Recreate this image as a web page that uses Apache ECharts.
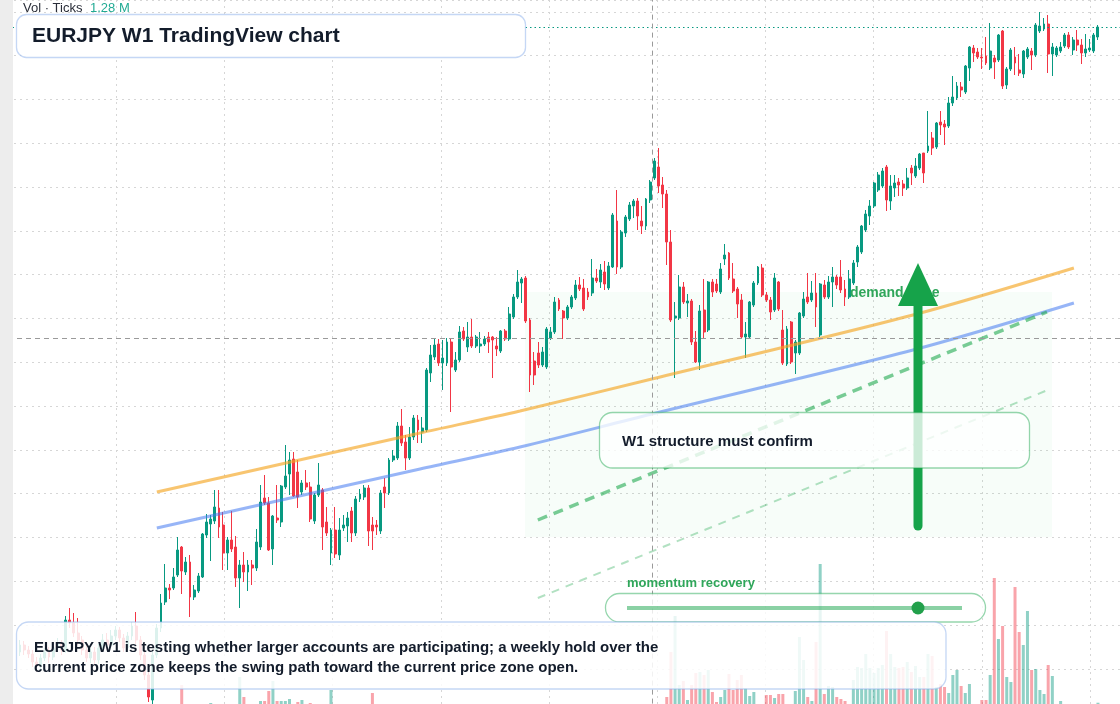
<!DOCTYPE html>
<html>
<head>
<meta charset="utf-8">
<title>EURJPY W1</title>
<script src="https://cdn.jsdelivr.net/npm/echarts@6/dist/echarts.min.js"></script>
<style>
  html, body { margin: 0; padding: 0; background: #fff; }
  #chart { width: 1120px; height: 704px; }
</style>
</head>
<body>
<div id="chart"></div>
<script>
// weekly candles, x = week index
const opens = [
  106.8, 107.5, 107.0, 106.6, 105.8, 105.4, 106.2, 106.8, 106.3, 107.2,
  107.6, 107.0, 110.0, 109.7, 108.7, 108.0, 107.0, 106.2, 106.8, 106.0,
  107.2, 108.0, 107.5, 108.4, 109.0, 108.2, 107.2, 108.4, 109.4, 108.0,
  106.5, 104.5, 102.0, 106.5, 109.2, 111.8, 113.2, 113.2, 114.5, 117.3,
  114.8, 115.8, 112.3, 112.9, 114.3, 118.5, 119.6, 119.9, 121.2, 119.5,
  116.7, 118.0, 117.3, 114.2, 115.5, 114.8, 115.5, 115.2, 117.3, 122.2,
  121.7, 117.1, 120.2, 119.8, 123.3, 124.6, 126.1, 124.8, 122.8, 123.7,
  123.3, 119.9, 122.5, 123.0, 119.8, 116.7, 119.0, 116.5, 119.2, 119.4,
  120.9, 118.7, 122.1, 122.3, 123.2, 119.5, 119.5, 118.9, 123.3, 122.7,
  126.0, 126.2, 129.4, 127.8, 126.2, 128.3, 130.0, 128.8, 129.0, 134.7,
  136.3, 137.6, 135.7, 135.7, 137.8, 135.0, 136.0, 138.9, 137.3, 138.3,
  137.4, 137.4, 137.6, 138.3, 138.3, 137.4, 136.9, 138.9, 138.1, 140.3,
  142.3, 143.7, 144.2, 140.0, 135.9, 136.7, 135.5, 135.3, 138.2, 138.8,
  142.0, 140.9, 140.2, 141.3, 142.2, 143.5, 143.2, 142.8, 142.7, 144.2,
  143.8, 144.8, 143.2, 145.3, 149.9, 145.3, 148.7, 150.1, 151.4, 151.9,
  149.9, 149.4, 152.0, 154.2, 155.3, 153.5, 152.6, 147.8, 140.2, 140.2,
  143.3, 141.7, 141.9, 137.8, 135.8, 141.0, 139.0, 143.8, 143.6, 142.8,
  146.1, 146.7, 144.1, 143.1, 142.0, 138.3, 138.3, 141.5, 143.7, 145.2,
  142.5, 142.0, 141.0, 143.8, 139.0, 135.6, 139.8, 136.7, 136.7, 140.4,
  142.3, 142.0, 142.7, 138.5, 143.5, 142.3, 143.8, 144.3, 144.3, 143.1,
  142.3, 143.7, 145.8, 146.8, 149.0, 150.4, 151.4, 153.0, 153.4, 155.3,
  151.9, 153.2, 153.8, 153.6, 153.2, 155.2, 154.4, 155.2, 156.7, 156.9,
  158.2, 157.3, 159.8, 159.6, 159.4, 161.7, 162.2, 163.3, 162.8, 165.2,
  167.2, 166.8, 166.3, 166.4, 165.2, 166.2, 166.0, 168.9, 163.5, 165.1,
  166.3, 165.0, 164.6, 166.3, 166.9, 166.5, 168.9, 169.1, 169.6, 166.6,
  166.5, 166.9, 167.4, 168.5, 167.0, 168.0, 167.5, 166.7, 167.0, 166.9,
  168.3
];
const closes = [
  107.5, 107.0, 106.6, 105.8, 105.4, 106.2, 106.8, 106.3, 107.2, 107.6,
  107.0, 110.0, 109.7, 108.7, 108.0, 107.0, 106.2, 106.8, 106.0, 107.2,
  108.0, 107.5, 108.4, 109.0, 108.2, 107.2, 108.4, 109.4, 108.0, 106.5,
  104.5, 102.3, 106.5, 109.2, 111.7, 113.2, 113.0, 114.3, 117.0, 114.9,
  115.8, 112.3, 113.0, 114.4, 118.6, 119.8, 120.1, 121.3, 119.3, 116.7,
  118.0, 117.1, 114.2, 115.5, 114.8, 115.5, 115.2, 117.8, 121.8, 121.7,
  117.0, 120.4, 120.0, 123.4, 124.4, 126.0, 122.4, 122.3, 123.7, 123.3,
  120.1, 122.5, 123.5, 119.3, 118.7, 119.0, 116.6, 119.0, 119.5, 120.2,
  118.7, 122.1, 122.6, 123.2, 118.9, 118.9, 119.3, 122.7, 122.7, 126.0,
  126.4, 129.4, 127.7, 126.2, 128.3, 130.2, 129.0, 129.2, 135.0, 136.5,
  137.5, 135.7, 136.2, 137.8, 135.3, 136.0, 138.8, 138.1, 138.3, 137.4,
  138.3, 137.6, 138.1, 137.8, 138.0, 137.1, 138.9, 138.1, 140.6, 142.3,
  143.8, 144.1, 139.9, 134.5, 134.5, 135.5, 136.8, 139.1, 138.8, 141.8,
  141.1, 140.2, 141.3, 142.3, 143.5, 143.1, 141.1, 142.3, 144.2, 143.9,
  145.0, 143.6, 145.4, 150.5, 145.3, 148.8, 150.3, 151.5, 151.9, 150.4,
  149.4, 152.1, 153.8, 155.9, 153.4, 152.6, 147.8, 140.0, 140.4, 143.3,
  141.8, 141.9, 137.8, 135.8, 140.9, 138.8, 143.8, 142.8, 142.9, 145.1,
  146.5, 144.2, 142.9, 141.6, 138.3, 138.6, 141.8, 143.7, 145.3, 142.5,
  142.0, 140.8, 144.2, 141.1, 135.7, 139.1, 135.8, 137.8, 140.7, 142.1,
  141.8, 142.7, 141.3, 143.6, 142.3, 143.8, 144.3, 143.5, 143.0, 142.3,
  144.1, 145.7, 147.3, 149.4, 150.6, 151.4, 153.7, 154.5, 154.9, 152.0,
  153.4, 153.7, 153.5, 153.2, 154.2, 154.7, 155.4, 156.6, 154.7, 157.4,
  157.2, 159.7, 159.5, 159.3, 161.7, 162.3, 163.4, 163.0, 165.4, 167.3,
  166.7, 166.3, 166.2, 165.7, 166.9, 165.8, 168.5, 163.4, 165.1, 167.0,
  165.7, 164.7, 166.9, 167.1, 166.5, 169.5, 169.4, 169.6, 166.6, 167.3,
  167.2, 167.3, 168.5, 167.3, 168.0, 167.5, 166.7, 167.1, 167.2, 168.5,
  169.3
];
const highs = [
  108.0, 107.9, 107.4, 107.0, 106.3, 106.6, 107.2, 107.3, 107.7, 108.2,
  108.0, 110.4, 111.2, 110.7, 110.2, 108.4, 107.5, 107.2, 107.3, 107.6,
  108.6, 108.7, 109.0, 109.4, 109.3, 108.6, 108.8, 109.8, 110.8, 108.4,
  107.0, 104.8, 107.0, 109.6, 112.6, 115.6, 113.6, 115.2, 118.3, 117.4,
  116.3, 116.5, 113.5, 114.7, 118.7, 120.6, 120.5, 123.0, 123.0, 120.8,
  118.3, 120.9, 118.4, 116.0, 116.8, 116.0, 116.0, 119.1, 123.5, 124.5,
  122.3, 120.5, 123.5, 123.5, 127.5, 126.8, 126.8, 126.0, 124.0, 125.0,
  123.8, 122.7, 125.7, 123.2, 121.3, 119.2, 121.3, 120.2, 120.5, 120.8,
  121.3, 122.4, 123.1, 123.5, 123.5, 120.3, 120.0, 123.0, 124.2, 126.2,
  127.0, 129.8, 131.1, 128.5, 129.3, 130.5, 130.5, 130.3, 135.2, 137.5,
  138.2, 138.1, 138.0, 138.2, 138.2, 136.8, 139.4, 139.3, 139.8, 140.1,
  138.5, 138.8, 138.4, 138.8, 138.4, 138.3, 139.0, 139.1, 141.3, 142.6,
  145.0, 144.3, 144.4, 140.2, 136.8, 137.8, 137.3, 139.3, 139.3, 142.3,
  142.2, 141.0, 141.5, 142.5, 144.0, 144.3, 144.1, 143.2, 146.1, 145.1,
  145.6, 145.9, 145.8, 150.7, 153.0, 149.0, 150.5, 151.8, 152.1, 152.2,
  151.4, 152.2, 154.0, 156.2, 157.2, 154.3, 153.0, 149.0, 141.8, 144.5,
  143.8, 142.6, 142.1, 138.9, 141.5, 144.1, 143.9, 144.1, 144.1, 145.7,
  147.6, 146.8, 145.7, 143.3, 142.6, 139.8, 141.9, 143.9, 145.4, 145.6,
  142.8, 142.3, 144.7, 143.9, 141.0, 139.4, 139.9, 138.0, 140.8, 142.8,
  144.7, 143.9, 144.7, 143.7, 144.0, 144.4, 145.3, 144.5, 146.0, 144.0,
  145.0, 146.0, 147.5, 149.5, 151.0, 152.0, 153.8, 154.8, 155.2, 155.5,
  154.5, 154.5, 154.2, 154.0, 155.2, 155.5, 156.2, 156.7, 156.7, 160.9,
  158.8, 159.8, 160.9, 160.0, 162.3, 164.4, 163.8, 163.8, 165.5, 167.4,
  167.5, 167.2, 167.2, 168.3, 169.7, 166.5, 168.6, 169.0, 165.3, 167.2,
  167.3, 166.6, 167.0, 167.3, 167.2, 169.7, 170.8, 170.2, 170.5, 167.7,
  167.4, 167.8, 168.7, 168.8, 168.3, 169.0, 168.1, 168.6, 168.1, 168.7,
  169.5
];
const lows = [
  106.4, 106.5, 106.2, 105.3, 104.8, 105.0, 105.9, 105.7, 106.0, 106.8,
  106.5, 106.7, 109.2, 108.3, 107.5, 106.5, 105.8, 105.7, 105.5, 105.6,
  106.8, 107.0, 107.2, 108.0, 107.8, 106.8, 106.8, 108.0, 107.6, 106.0,
  104.0, 101.8, 101.0, 106.2, 108.8, 111.5, 112.1, 113.0, 114.3, 112.6,
  114.5, 110.3, 112.0, 112.7, 114.2, 118.2, 115.9, 119.6, 118.2, 115.0,
  115.0, 116.8, 113.3, 111.2, 113.8, 112.9, 113.5, 114.9, 117.0, 121.5,
  116.9, 115.5, 119.7, 119.3, 123.1, 122.5, 122.3, 121.2, 122.5, 123.0,
  119.8, 119.6, 122.3, 117.0, 118.4, 115.5, 116.2, 116.0, 118.9, 117.8,
  117.8, 118.4, 121.8, 122.0, 117.4, 117.0, 118.5, 118.6, 121.2, 122.5,
  125.8, 126.0, 127.4, 125.0, 126.0, 128.0, 127.7, 127.7, 128.8, 133.8,
  136.0, 135.4, 133.0, 135.4, 130.8, 134.8, 135.8, 137.9, 136.8, 137.2,
  137.2, 136.7, 137.4, 136.7, 134.2, 136.4, 136.7, 137.9, 137.9, 140.1,
  142.1, 141.7, 139.7, 132.8, 133.5, 135.2, 135.3, 135.1, 138.0, 138.6,
  140.9, 138.1, 140.0, 141.1, 142.0, 142.9, 140.9, 142.0, 142.4, 143.7,
  143.2, 143.0, 143.0, 145.2, 144.6, 145.1, 148.3, 149.9, 150.2, 149.0,
  148.6, 149.0, 151.7, 154.0, 152.7, 151.2, 145.5, 139.8, 134.2, 140.0,
  141.6, 140.3, 137.5, 135.7, 135.0, 138.2, 138.8, 142.3, 142.7, 142.6,
  145.5, 144.0, 142.7, 140.2, 138.1, 136.2, 138.1, 141.3, 143.5, 142.3,
  141.8, 140.0, 140.8, 140.9, 135.5, 135.4, 135.6, 134.6, 136.5, 140.2,
  141.6, 141.8, 139.3, 138.3, 142.1, 142.1, 141.3, 143.1, 142.7, 141.4,
  142.1, 143.5, 145.3, 146.6, 148.8, 149.5, 151.2, 152.8, 153.2, 150.9,
  151.0, 152.3, 152.4, 152.4, 153.0, 153.5, 154.2, 155.0, 153.7, 156.7,
  156.5, 157.1, 158.5, 157.5, 159.2, 161.4, 162.0, 162.3, 162.6, 163.9,
  165.8, 166.1, 165.1, 165.5, 165.0, 164.1, 165.8, 163.1, 163.1, 164.9,
  164.5, 164.4, 164.2, 166.1, 165.0, 166.3, 168.7, 168.9, 164.7, 164.4,
  166.3, 166.7, 167.2, 167.1, 166.5, 166.9, 165.6, 166.3, 166.8, 166.7,
  168.0
];
// tick volume, millions
const volumes = [
  0, 0, 0, 0, 0, 0, 0, 0, 0, 0,
  0, 0, 0, 0, 0, 0, 0, 0, 0, 0,
  0, 0, 0, 0, 0, 0, 0, 0, 0, 0,
  0, 0, 0, 0, 0, 0, 0, 0, 0, 19,
  0, 0, 0, 0, 0, 0, 1, 0, 0, 0,
  0, 0, 0, 27, 7, 0, 0, 0, 3, 3,
  13, 23, 3, 3, 3, 5, 0, 2, 4, 0,
  1, 0, 0, 0, 0, 14, 0, 0, 0, 0,
  0, 0, 0, 0, 0, 11, 0, 0, 0, 0,
  0, 0, 0, 0, 0, 0, 0, 0, 0, 0,
  0, 0, 0, 0, 0, 0, 0, 0, 0, 0,
  0, 0, 0, 0, 0, 0, 0, 0, 0, 0,
  0, 0, 0, 0, 0, 0, 0, 0, 0, 0,
  0, 0, 0, 0, 0, 0, 0, 0, 0, 0,
  0, 0, 0, 0, 0, 0, 0, 0, 0, 0,
  0, 0, 0, 0, 0, 0, 7, 52, 88, 19,
  23, 4, 19, 31, 32, 29, 34, 12, 2, 7,
  14, 30, 14, 24, 29, 16, 8, 12, 0, 0,
  9, 9, 6, 10, 10, 0, 0, 13, 67, 44,
  7, 3, 62, 140, 10, 18, 17, 7, 5, 3,
  0, 24, 37, 36, 50, 36, 31, 36, 39, 73,
  50, 37, 36, 37, 42, 32, 38, 27, 27, 50,
  48, 17, 20, 17, 11, 29, 34, 18, 11, 20,
  0, 0, 4, 4, 29, 126, 65, 78, 27, 22,
  117, 72, 59, 93, 34, 35, 14, 10, 39, 28,
  0, 3, 0, 0, 0, 0, 0, 0, 0, 0,
  1.28
];

// drawn studies, [week, price]
const upperTrend = [[33.0, 122.8], [96.5, 128.7], [120.6, 130.9], [152.4, 134.1], [215.4, 140.5], [254.2, 145.2]];
const lowerTrend = [[33.0, 119.2], [96.5, 125.1], [120.6, 127.3], [152.4, 130.6], [215.4, 137.0], [254.2, 141.7]];
const demandPath = [[124.9, 120.0], [247.7, 140.8]];
const demandPathLow = [[124.9, 112.2], [247.9, 133.0]];
const demandZone = [[121.8, 142.8], [248.9, 118.3]];
const crossWeek = 152.4;
const crossPrice = 138.2;

const UP = "#089981";
const DOWN = "#f23645";
const FONT = '"Liberation Sans", Arial, sans-serif';
const INK = "#131c2b";
const GREEN = "#16a34a";

const candles = opens.map((o, i) => [i, o, closes[i], lows[i], highs[i]]);
const volBars = volumes.map((v, i) => ({
  value: [i, v],
  itemStyle: {
    color: closes[i] >= opens[i] ? "rgba(8,153,129,0.45)" : "rgba(242,54,69,0.45)"
  }
}));
const last = closes.length - 1;

const xRange = { min: -2.9, max: 265.32 };
const gridDots = { color: "#d6d6d6", width: 1, type: [2, 4] };

const option = {
  animation: false,
  backgroundColor: "#fff",
  grid: [
    { left: 8, right: 0, top: 0, height: 712.6, outerBoundsMode: "none", containLabel: false },
    { left: 8, right: 0, bottom: 0, height: 140, outerBoundsMode: "none", containLabel: false }
  ],
  xAxis: [
    {
      type: "value",
      gridIndex: 0,
      min: xRange.min,
      max: xRange.max,
      interval: 26.1,
      axisLine: { show: false },
      axisTick: { show: false },
      axisLabel: { show: false },
      splitLine: { show: true, lineStyle: gridDots }
    },
    {
      type: "value",
      gridIndex: 1,
      min: xRange.min,
      max: xRange.max,
      show: false,
      splitLine: { show: false }
    }
  ],
  yAxis: [
    {
      type: "value",
      gridIndex: 0,
      min: 100.74,
      max: 172.0,
      interval: 4.38,
      axisLine: { show: false },
      axisTick: { show: false },
      axisLabel: { show: false },
      splitLine: { show: true, lineStyle: gridDots }
    },
    {
      type: "value",
      gridIndex: 1,
      min: 0,
      max: 140,
      show: false,
      splitLine: { show: false }
    }
  ],
  series: [
    {
      name: "volume",
      type: "bar",
      xAxisIndex: 1,
      yAxisIndex: 1,
      barWidth: 3,
      z: 1,
      data: volBars
    },
    {
      name: "EURJPY",
      type: "candlestick",
      xAxisIndex: 0,
      yAxisIndex: 0,
      barWidth: 2.4,
      z: 3,
      encode: { x: 0, y: [1, 2, 3, 4] },
      itemStyle: {
        color: UP,
        color0: DOWN,
        borderColor: UP,
        borderColor0: DOWN,
        borderWidth: 1
      },
      data: candles,
      markArea: {
        silent: true,
        itemStyle: { color: "rgba(34,197,94,0.035)" },
        data: [[{ coord: demandZone[0] }, { coord: demandZone[1] }]]
      },
      markLine: {
        silent: true,
        symbol: "none",
        label: { show: false },
        data: [
          { yAxis: closes[last], lineStyle: { color: UP, width: 1, type: [1.5, 3] } },
          { yAxis: crossPrice, lineStyle: { color: "#9a9a9a", width: 1, type: [5, 4] } },
          { xAxis: crossWeek, lineStyle: { color: "#9a9a9a", width: 1, type: [5, 4] } }
        ]
      }
    },
    {
      name: "upper",
      type: "line",
      smooth: 0.3,
      showSymbol: false,
      z: 4,
      lineStyle: { color: "rgba(245,166,35,0.65)", width: 3 },
      data: upperTrend
    },
    {
      name: "lower",
      type: "line",
      smooth: 0.3,
      showSymbol: false,
      z: 4,
      lineStyle: { color: "rgba(66,120,240,0.55)", width: 3 },
      data: lowerTrend
    },
    {
      name: "path",
      type: "line",
      showSymbol: false,
      z: 4,
      lineStyle: { color: "rgba(34,170,80,0.6)", width: 3.5, type: [10, 7] },
      data: demandPath
    },
    {
      name: "path low",
      type: "line",
      showSymbol: false,
      z: 4,
      lineStyle: { color: "rgba(34,170,80,0.35)", width: 2, type: [8, 7] },
      data: demandPathLow
    }
  ],
  graphic: [
    { type: "rect", z: 100, shape: { x: 0, y: 0, width: 13, height: 704 }, style: { fill: "#ededed" } },
    {
      type: "text", z: 100,
      style: { text: "demand zone", x: 850, y: 293, font: "bold 14px " + FONT, fill: "#2fa65a", textVerticalAlign: "middle", verticalAlign: "middle" }
    },
    { type: "line", z: 101, shape: { x1: 918, y1: 526, x2: 918, y2: 300 }, style: { stroke: GREEN, lineWidth: 9, lineCap: "round" } },
    { type: "polygon", z: 101, shape: { points: [[898, 306], [938, 306], [918, 263]] }, style: { fill: GREEN } },
    {
      type: "rect", z: 102,
      shape: { x: 599.5, y: 412.5, width: 430, height: 55.5, r: 13 },
      style: { fill: "rgba(255,255,255,0.78)", stroke: "rgba(22,163,74,0.45)", lineWidth: 1.3 }
    },
    {
      type: "text", z: 103,
      style: { text: "W1 structure must confirm", x: 622, y: 442, font: "bold 15px " + FONT, fill: INK, textVerticalAlign: "middle", verticalAlign: "middle" }
    },
    {
      type: "text", z: 103,
      style: { text: "momentum recovery", x: 627, y: 583, font: "bold 13px " + FONT, fill: "#2fa65a", textVerticalAlign: "middle", verticalAlign: "middle" }
    },
    {
      type: "rect", z: 102,
      shape: { x: 605.5, y: 593.5, width: 380, height: 28.5, r: 14 },
      style: { fill: "rgba(255,255,255,0.78)", stroke: "rgba(22,163,74,0.45)", lineWidth: 1.3 }
    },
    { type: "line", z: 103, shape: { x1: 627, y1: 608, x2: 962, y2: 608 }, style: { stroke: "rgba(22,163,74,0.5)", lineWidth: 4 } },
    { type: "circle", z: 104, shape: { cx: 918, cy: 608, r: 6.5 }, style: { fill: "#22a04b" } },
    {
      type: "rect", z: 102,
      shape: { x: 16.5, y: 14.5, width: 509, height: 43, r: 10 },
      style: { fill: "#fff", stroke: "rgba(140,175,235,0.5)", lineWidth: 1.3 }
    },
    {
      type: "text", z: 103,
      style: { text: "EURJPY W1 TradingView chart", x: 32, y: 36, font: "bold 21px " + FONT, fill: INK, textVerticalAlign: "middle", verticalAlign: "middle" }
    },
    {
      type: "rect", z: 102,
      shape: { x: 16.5, y: 622, width: 929.5, height: 67, r: 12 },
      style: { fill: "rgba(255,255,255,0.86)", stroke: "rgba(140,175,235,0.5)", lineWidth: 1.3 }
    },
    {
      type: "text", z: 103,
      style: { text: "EURJPY W1 is testing whether larger accounts are participating; a weekly hold over the", x: 34, y: 648, font: "bold 15px " + FONT, fill: INK, textVerticalAlign: "middle", verticalAlign: "middle" }
    },
    {
      type: "text", z: 103,
      style: { text: "current price zone keeps the swing path toward the current price zone open.", x: 34, y: 668, font: "bold 15px " + FONT, fill: INK, textVerticalAlign: "middle", verticalAlign: "middle" }
    },
    {
      type: "text", z: 103,
      style: { text: "Vol \u00b7 Ticks", x: 23, y: 8.5, font: "13px " + FONT, fill: "#2a2e39", textVerticalAlign: "middle", verticalAlign: "middle" }
    },
    {
      type: "text", z: 103,
      style: { text: volumes[last].toFixed(2) + " M", x: 90, y: 8.5, font: "13px " + FONT, fill: "#22ab94", textVerticalAlign: "middle", verticalAlign: "middle" }
    }
  ]
};

const chart = echarts.init(document.getElementById("chart"));
chart.setOption(option);
window.addEventListener("resize", () => chart.resize());
</script>
</body>
</html>
